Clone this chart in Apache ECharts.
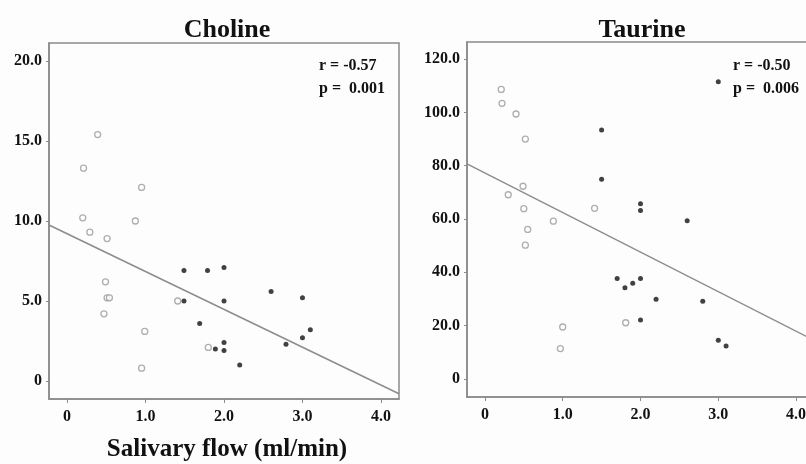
<!DOCTYPE html>
<html>
<head>
<meta charset="utf-8">
<script src="https://cdn.jsdelivr.net/npm/echarts@6/dist/echarts.min.js"></script>
<style>
  html, body { margin: 0; padding: 0; background: #fff; }
  #main { width: 806px; height: 464px; }
</style>
</head>
<body>
<div id="main"></div>
<script>
// salivary flow (ml/min) vs concentration, open = gray circles, filled = black dots
var cholineOpen = [
  [0.39, 15.4], [0.21, 13.3], [0.95, 12.1], [0.20, 10.2], [0.87, 10.0],
  [0.29, 9.3], [0.51, 8.9], [0.49, 6.2], [0.51, 5.2], [0.54, 5.2],
  [0.47, 4.2], [1.41, 5.0], [0.99, 3.1], [0.95, 0.8], [1.80, 2.1]
];
var cholineFilled = [
  [1.49, 6.9], [1.79, 6.9], [2.0, 7.1], [2.6, 5.6], [3.0, 5.2],
  [1.49, 5.0], [2.0, 5.0], [1.69, 3.6], [3.1, 3.2], [3.0, 2.7],
  [2.79, 2.3], [1.89, 2.0], [2.0, 2.4], [2.0, 1.9], [2.2, 1.0]
];
var taurineOpen = [
  [0.21, 108.6], [0.22, 103.4], [0.40, 99.4], [0.52, 90.0], [0.49, 72.3],
  [0.30, 69.1], [0.50, 63.9], [1.41, 64.0], [0.88, 59.2], [0.55, 56.1],
  [0.52, 50.2], [1.0, 19.5], [0.97, 11.4], [1.81, 21.1]
];
var taurineFilled = [
  [3.0, 111.5], [1.50, 93.4], [1.50, 74.9], [2.0, 65.7], [2.0, 63.2],
  [2.6, 59.4], [1.70, 37.7], [1.80, 34.2], [1.90, 35.9], [2.0, 37.7],
  [2.2, 29.9], [2.8, 29.2], [2.0, 22.1], [3.0, 14.5], [3.1, 12.4]
];
// fitted regression lines (end points)
var cholineFit = [[-0.23, 9.75], [4.23, -0.8]];
var taurineFit = [[-0.23, 80.7], [4.23, 14.5]];

var xTicks = [0, 1, 2, 3, 4];
var cholineTicks = [0, 5, 10, 15, 20];
var taurineTicks = [0, 20, 40, 60, 80, 100, 120];

var serif = '"Liberation Serif", "DejaVu Serif", serif';
var frame = '#8a8a8a';

function fmt(v) { return v === 0 ? '0' : v.toFixed(1); }

function xAxis(idx) {
  return {
    type: 'value', gridIndex: idx, min: -0.23, max: 4.23,
    splitLine: { show: false },
    axisLine: { onZero: false, lineStyle: { color: frame, width: 1.5 } },
    axisTick: { customValues: xTicks, length: 4, lineStyle: { color: frame } },
    axisLabel: {
      customValues: xTicks, formatter: fmt, margin: 10,
      color: '#111', fontFamily: serif, fontWeight: 'bold', fontSize: 16
    }
  };
}
function yAxis(idx, min, max, ticks) {
  return {
    type: 'value', gridIndex: idx, min: min, max: max,
    splitLine: { show: false },
    axisLine: { onZero: false, lineStyle: { color: frame, width: 1.5 } },
    axisTick: { customValues: ticks, length: 3, lineStyle: { color: frame } },
    axisLabel: {
      customValues: ticks, formatter: fmt, margin: 7,
      color: '#111', fontFamily: serif, fontWeight: 'bold', fontSize: 16
    }
  };
}
function openSeries(idx, data) {
  return {
    type: 'scatter', xAxisIndex: idx, yAxisIndex: idx, data: data,
    symbolSize: 6, silent: true,
    itemStyle: { color: '#fff', borderColor: '#9a9a9a', borderWidth: 1.3 }
  };
}
function filledSeries(idx, data) {
  return {
    type: 'scatter', xAxisIndex: idx, yAxisIndex: idx, data: data,
    symbolSize: 5, silent: true,
    itemStyle: { color: '#111' }
  };
}
function fitSeries(idx, data) {
  return {
    type: 'line', xAxisIndex: idx, yAxisIndex: idx, data: data,
    showSymbol: false, silent: true,
    lineStyle: { color: '#8c8c8c', width: 1.5 }
  };
}

var myChart = echarts.init(document.getElementById('main'));
myChart.setOption({
  backgroundColor: '#fdfdfd',
  animation: false,
  title: [
    { text: 'Choline', left: 222, top: 12, textAlign: 'center',
      textStyle: { fontFamily: serif, fontWeight: 'bold', fontSize: 26, color: '#111' } },
    { text: 'Taurine', left: 637, top: 12, textAlign: 'center',
      textStyle: { fontFamily: serif, fontWeight: 'bold', fontSize: 26, color: '#111' } },
    { text: 'Salivary flow (ml/min)', left: 222, top: 432, textAlign: 'center',
      textStyle: { fontFamily: serif, fontWeight: 'bold', fontSize: 25, color: '#111' } }
  ],
  grid: [
    { left: 49, top: 43, width: 350, height: 356, show: true, borderColor: frame, borderWidth: 1.5,
      outerBoundsMode: 'none' },
    { left: 467, top: 42, width: 347, height: 355, show: true, borderColor: frame, borderWidth: 1.5,
      outerBoundsMode: 'none' }
  ],
  graphic: [
    { type: 'text', left: 319, top: 58, style: { text: 'r = -0.57', fill: '#111', font: 'bold 16px ' + serif } },
    { type: 'text', left: 319, top: 81, style: { text: 'p =  0.001', fill: '#111', font: 'bold 16px ' + serif } },
    { type: 'text', left: 733, top: 58, style: { text: 'r = -0.50', fill: '#111', font: 'bold 16px ' + serif } },
    { type: 'text', left: 733, top: 81, style: { text: 'p =  0.006', fill: '#111', font: 'bold 16px ' + serif } }
  ],
  xAxis: [xAxis(0), xAxis(1)],
  yAxis: [
    yAxis(0, -1.125, 21.125, cholineTicks),
    yAxis(1, -6.75, 126.4, taurineTicks)
  ],
  series: [
    fitSeries(0, cholineFit),
    openSeries(0, cholineOpen),
    filledSeries(0, cholineFilled),
    fitSeries(1, taurineFit),
    openSeries(1, taurineOpen),
    filledSeries(1, taurineFilled)
  ]
});
</script>
</body>
</html>
